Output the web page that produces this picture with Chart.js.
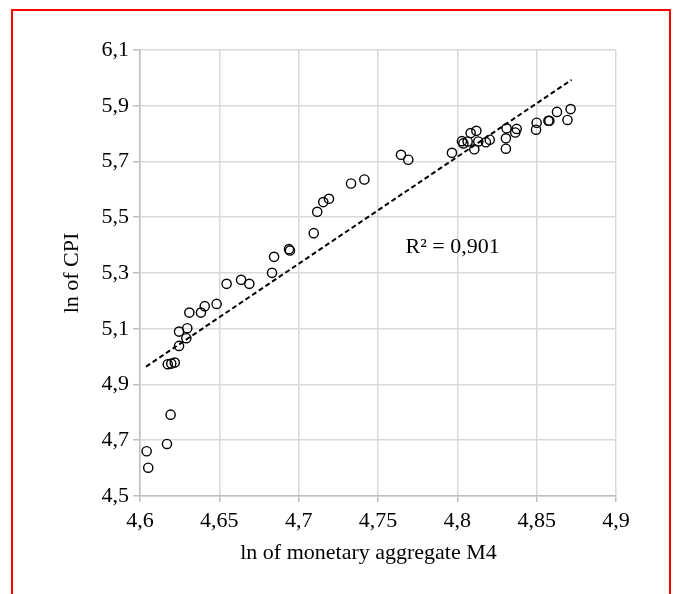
<!DOCTYPE html>
<html>
<head>
<meta charset="utf-8">
<script src="https://cdn.jsdelivr.net/npm/chart.js@4/dist/chart.umd.min.js"></script>
<style>
  html, body { margin: 0; padding: 0; background: #fff; }
  #wrap { position: relative; width: 673px; height: 594px; overflow: hidden; }
  #frame { position: absolute; left: 11px; top: 9px; width: 660px; height: 620px; border: 2px solid #ff0000; box-sizing: border-box; pointer-events: none; }
  #box { position: absolute; left: 0; top: 0; width: 673px; height: 594px; }
</style>
</head>
<body>
<div id="wrap">
  <div id="box"><canvas id="c"></canvas></div>
  <div id="frame"></div>
</div>
<script>
// ln of monetary aggregate M4
const m4Values = [
  4.6042, 4.6052, 4.6170, 4.6193, 4.6175, 4.6197, 4.6219, 4.6246, 4.6246, 4.6292,
  4.6298, 4.6311, 4.6384, 4.6408, 4.6483, 4.6546, 4.6637, 4.6689, 4.6832, 4.6845,
  4.6939, 4.6945, 4.7095, 4.7117, 4.7155, 4.7191, 4.7330, 4.7414, 4.7645, 4.7691,
  4.7966, 4.8029, 4.8038, 4.8065, 4.8084, 4.8120, 4.8107, 4.8132, 4.8180, 4.8204,
  4.8310, 4.8306, 4.8306, 4.8365, 4.8374, 4.8500, 4.8496, 4.8574, 4.8580, 4.8628,
  4.8694, 4.8714
];
// ln of CPI
const cpiValues = [
  4.6605, 4.6016, 4.6867, 4.7918, 4.9728, 4.9749, 4.9785, 5.0385, 5.0898, 5.0661,
  5.1020, 5.1580, 5.1580, 5.1810, 5.1892, 5.2610, 5.2754, 5.2610, 5.3005, 5.3580,
  5.3856, 5.3806, 5.4430, 5.5195, 5.5543, 5.5662, 5.6211, 5.6354, 5.7241, 5.7062,
  5.7310, 5.7730, 5.7650, 5.7720, 5.8020, 5.8100, 5.7440, 5.7720, 5.7690, 5.7780,
  5.8190, 5.7830, 5.7460, 5.8040, 5.8170, 5.8390, 5.8140, 5.8460, 5.8460, 5.8780,
  5.8490, 5.8880
];
// linear trend line end points
const trendX = [4.6038, 4.8720];
const trendY = [4.964, 5.993];
const r2Label = 'R² = 0,901';

const xTickLabels = ['4,6', '4,65', '4,7', '4,75', '4,8', '4,85', '4,9'];
const yTickLabels = ['4,5', '4,7', '4,9', '5,1', '5,3', '5,5', '5,7', '5,9', '6,1'];
const xTitle = 'ln of monetary aggregate M4';
const yTitle = 'ln of CPI';

const FONT = "'Liberation Serif', 'Times New Roman', serif";

const points = m4Values.map((x, i) => ({ x: x, y: cpiValues[i] }));
const trend = trendX.map((x, i) => ({ x: x, y: trendY[i] }));

const textPlugin = {
  id: 'texts',
  afterDatasetsDraw(chart) {
    const { ctx, scales } = chart;
    ctx.save();
    ctx.font = "22px " + FONT;
    ctx.fillStyle = '#000';
    ctx.textAlign = 'center';
    ctx.textBaseline = 'middle';
    ctx.fillText(r2Label, scales.x.getPixelForValue(4.797), scales.y.getPixelForValue(5.394));
    // x axis title, centred under the whole chart block (as in the original)
    ctx.fillText(xTitle, 368.5, scales.x.bottom - 41);
    ctx.restore();
  }
};

new Chart(document.getElementById('c'), {
  type: 'scatter',
  data: {
    datasets: [
      {
        label: 'CPI',
        data: points,
        pointStyle: 'circle',
        pointRadius: 4.6,
        pointBorderWidth: 1.4,
        pointBorderColor: '#000',
        pointBackgroundColor: 'rgba(0,0,0,0)',
        showLine: false
      },
      {
        label: 'Trend',
        data: trend,
        showLine: true,
        borderColor: '#000',
        borderWidth: 2,
        borderDash: [5, 3],
        pointRadius: 0,
        fill: false
      }
    ]
  },
  options: {
    responsive: true,
    maintainAspectRatio: false,
    animation: false,
    layout: { padding: { left: 20, top: 50, right: 57, bottom: 0 } },
    plugins: { legend: { display: false }, tooltip: { enabled: false } },
    scales: {
      x: {
        type: 'linear',
        min: 4.6, max: 4.9,
        afterFit(scale) { scale.height = 98; },
        ticks: {
          stepSize: 0.05,
          padding: 6,
          color: '#000',
          font: { family: FONT, size: 22 },
          callback: (v, i) => xTickLabels[i]
        },
        grid: { color: '#d9d9d9', lineWidth: 1.5, tickLength: 6, tickColor: '#bfbfbf' },
        border: { color: '#bfbfbf', width: 1.5 },
        title: { display: false }
      },
      y: {
        type: 'linear',
        min: 4.5, max: 6.1,
        afterFit(scale) { scale.width = 120; },
        ticks: {
          stepSize: 0.2,
          padding: 4,
          color: '#000',
          font: { family: FONT, size: 22 },
          callback: (v, i) => yTickLabels[i]
        },
        grid: { color: '#d9d9d9', lineWidth: 1.5, tickLength: 7, tickColor: '#bfbfbf' },
        border: { color: '#bfbfbf', width: 1.5 },
        title: {
          display: true, text: yTitle, color: '#000',
          font: { family: FONT, size: 22 },
          padding: { top: 39, bottom: 0 }
        }
      }
    }
  },
  plugins: [textPlugin]
});
</script>
</body>
</html>
